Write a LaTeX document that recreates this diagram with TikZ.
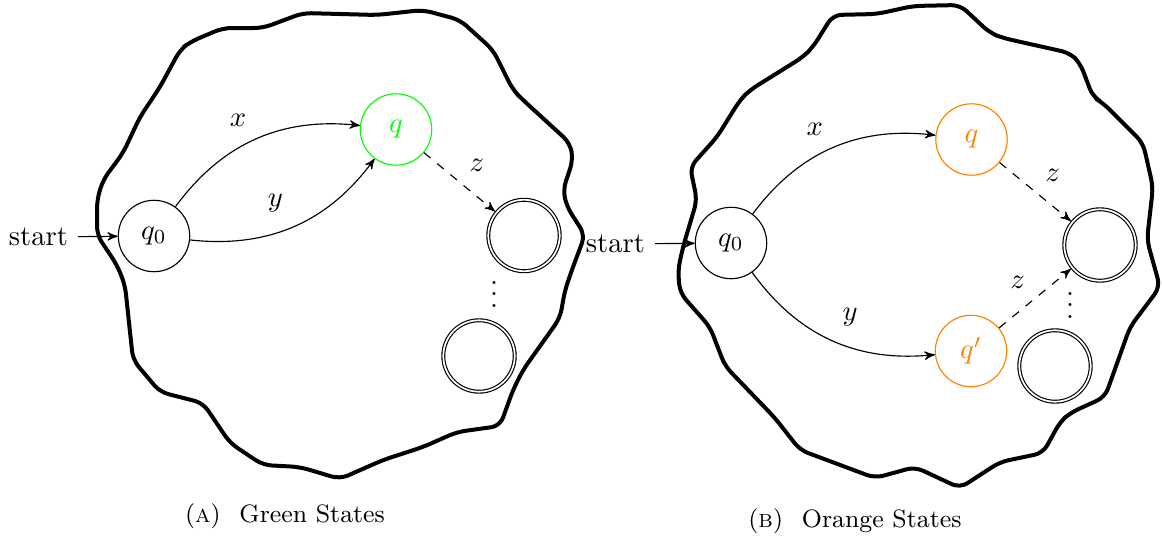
\documentclass[tikz,border=0pt]{standalone}
\usetikzlibrary{arrows}
\begin{document}
\begin{tikzpicture}[x=0.35pt,y=-0.35pt,>=stealth',
  st/.style={circle,draw,minimum size=25pt,inner sep=0pt},
  acc/.style={st,double,double distance=0.6pt,outer sep=0.7pt},
  blob/.style={line width=1.4pt,rounded corners=3pt,line join=round},
  lab/.style={font=\normalsize},
  captext/.style={anchor=base,font=\fontsize{8.8}{10}\selectfont}]
\useasboundingbox (0,0) rectangle (1162,538);

% ---------- panel A ----------
\draw[blob] (97,200) -- (97,235) -- (117,265) -- (125,285) -- (133,360) -- (160,392) -- (203,403) -- (230,443) -- (263,465) -- (300,467) -- (340,479) -- (383,460) -- (423,447) -- (457,432) -- (500,426) -- (513,390) -- (523,370) -- (560,318) -- (565,290) -- (573,267) -- (585,235) -- (567,207) -- (563,190) -- (573,160) -- (570,143) -- (523,100) -- (513,90) -- (493,50) -- (460,20) -- (423,10) -- (377,15) -- (303,13) -- (263,28) -- (223,28) -- (190,42) -- (180,50) -- (160,87) -- (140,117) -- (123,153) -- (103,180) -- cycle;

\node[st] (q0A) at (154,236) {$q_0$};
\node[st,draw=green,text=green] (qA) at (396,129.5) {$q$};
\node[acc] (f1A) at (524,235.5) {};
\node[anchor=base] (dA) at (494,307) {$\vdots$};
\node[acc] (f2A) at (479,356) {};
\node[anchor=east] (sA) at (78,237) {start};

\draw[->] (sA) -- (q0A);
\draw[->] (q0A) to[bend left] node[lab,pos=0.4,above=4pt] {$x$} (qA);
\draw[->] (q0A) to[bend right] node[lab,pos=0.4,above=4pt] {$y$} (qA);
\draw[->,dashed] (qA) -- node[lab,above right] {$z$} (f1A);

\node[captext] (capA) at (285,522) {(\textsc{a})\hspace{0.75em}Green States};

% ---------- panel B ----------
\draw[blob] (683,247) -- (697,200) -- (690,167) -- (717,137) -- (740,100) -- (750,90) -- (803,57) -- (813,47) -- (833,15) -- (877,14) -- (913,6) -- (960,5) -- (990,33) -- (1003,38) -- (1070,53) -- (1080,63) -- (1093,97) -- (1103,103) -- (1143,143) -- (1153,187) -- (1147,240) -- (1160,287) -- (1130,327) -- (1105,397) -- (1070,413) -- (1060,422) -- (1043,453) -- (1000,462) -- (960,488) -- (915,467) -- (875,478) -- (800,450) -- (775,418) -- (725,366) -- (710,327) -- (680,293) -- (678,270) -- cycle;

\node[st] (q0B) at (731,243) {$q_0$};
\node[st,draw=orange,text=orange] (qB) at (971.5,139.5) {$q$};
\node[st,draw=orange,text=orange] (qpB) at (971,351) {$q'$};
\node[acc] (f1B) at (1100,245) {};
\node[anchor=base] (dB) at (1070,318) {$\vdots$};
\node[acc] (f2B) at (1055,366) {};
\node[anchor=east] (sB) at (655,244) {start};

\draw[->] (sB) -- (q0B);
\draw[->] (q0B) to[bend left] node[lab,pos=0.4,above=4pt] {$x$} (qB);
\draw[->] (q0B) to[bend right] node[lab,pos=0.6,above=4pt] {$y$} (qpB);
\draw[->,dashed] (qB) -- node[lab,above right] {$z$} (f1B);
\draw[->,dashed] (qpB) -- node[lab,above left] {$z$} (f1B);

\node[captext] (capB) at (855,527) {(\textsc{b})\hspace{0.75em}Orange States};
\end{tikzpicture}
\end{document}
